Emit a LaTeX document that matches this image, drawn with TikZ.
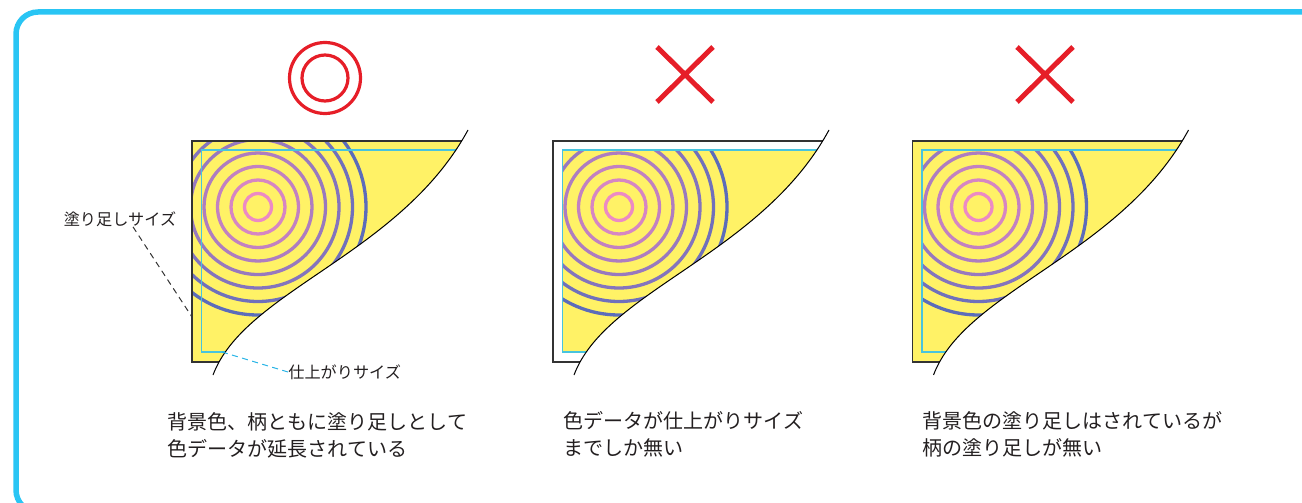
\documentclass[tikz,border=0pt]{standalone}
\usepackage{fontspec}
\newfontfamily\jpfont{Noto Sans CJK JP}

\definecolor{framecyan}{RGB}{41,197,244}
\definecolor{bleedyellow}{RGB}{255,242,102}
\definecolor{trimcyan}{RGB}{72,196,222}
\definecolor{leadcyan}{RGB}{40,180,230}
\definecolor{ringpink}{RGB}{236,138,196}
\definecolor{ringblue}{RGB}{92,108,186}
\definecolor{markred}{RGB}{230,30,40}
\definecolor{textgray}{RGB}{35,31,32}

\tikzset{
  frame/.style={draw=framecyan, line width=1.1mm, rounded corners=4.4mm},
  ring/.style={line width=0.66mm},
  trimline/.style={draw=trimcyan, line width=0.25mm},
  bleedline/.style={draw=black!80, line width=0.35mm},
  cutcurve/.style={draw=black, line width=0.2mm},
  okmark/.style={draw=markred, line width=0.64mm},
  ngmark/.style={draw=markred, line width=1mm},
  capt/.style={font=\jpfont\fontsize{11.4pt}{15.4pt}\selectfont, text=textgray,
    align=left, anchor=west, inner sep=0pt},
  sizelabel/.style={font=\jpfont\fontsize{9.2pt}{11pt}\selectfont, text=textgray,
    inner sep=0pt},
}

\begin{document}
\begin{tikzpicture}[x=0.2mm,y=-0.2mm]
  \clip (0,0) rectangle (1302,503);
  \draw[frame] (16,12) rectangle (1340,512);

  % left: bleed on background and pattern
  \begin{scope}
    \coordinate (cutA) at (213,375);
    \coordinate (cutB) at (245,290);
    \coordinate (cutC) at (400,255);
    \coordinate (cutD) at (468,130);
    \begin{scope}
      \clip (cutA) .. controls (cutB) and (cutC) .. (cutD) -- (150,130) -- (150,375) -- cycle;
      \fill[bleedyellow] (192,141) rectangle (480,362);
      \begin{scope}
        \clip (192,141) rectangle (480,362);
        \foreach \k in {1,...,8} {
          \pgfmathtruncatemacro\mix{100-(\k-1)*100/7}
          \draw[ring, ringpink!\mix!ringblue] (258,207) circle (13.5*\k);
        }
      \end{scope}
      \draw[trimline] (201.5,150) rectangle (480,352);
      \draw[bleedline] (192,141) rectangle (480,362);
    \end{scope}
    \draw[cutcurve] (cutA) .. controls (cutB) and (cutC) .. (cutD);
    \coordinate (trimtip) at (222,352);
    \coordinate (bleedtip) at (192,317);
  \end{scope}

  % middle: nothing outside the trim
  \begin{scope}[shift={(361,0)}]
    \coordinate (cutA) at (213,375);
    \coordinate (cutB) at (245,290);
    \coordinate (cutC) at (400,255);
    \coordinate (cutD) at (468,130);
    \begin{scope}
      \clip (cutA) .. controls (cutB) and (cutC) .. (cutD) -- (150,130) -- (150,375) -- cycle;
      \fill[bleedyellow] (201.5,150) rectangle (480,352);
      \begin{scope}
        \clip (201.5,150) rectangle (480,352);
        \foreach \k in {1,...,8} {
          \pgfmathtruncatemacro\mix{100-(\k-1)*100/7}
          \draw[ring, ringpink!\mix!ringblue] (258,207) circle (13.5*\k);
        }
      \end{scope}
      \draw[trimline] (201.5,150) rectangle (480,352);
      \draw[bleedline] (192,141) rectangle (480,362);
    \end{scope}
    \draw[cutcurve] (cutA) .. controls (cutB) and (cutC) .. (cutD);
  \end{scope}

  % right: background bled, pattern stops at the trim
  \begin{scope}[shift={(720.5,0)}]
    \coordinate (cutA) at (213,375);
    \coordinate (cutB) at (245,290);
    \coordinate (cutC) at (400,255);
    \coordinate (cutD) at (468,130);
    \begin{scope}
      \clip (cutA) .. controls (cutB) and (cutC) .. (cutD) -- (150,130) -- (150,375) -- cycle;
      \fill[bleedyellow] (192,141) rectangle (480,362);
      \begin{scope}
        \clip (201.5,150) rectangle (480,352);
        \foreach \k in {1,...,8} {
          \pgfmathtruncatemacro\mix{100-(\k-1)*100/7}
          \draw[ring, ringpink!\mix!ringblue] (258,207) circle (13.5*\k);
        }
      \end{scope}
      \draw[trimline] (201.5,150) rectangle (480,352);
      \draw[bleedline] (192,141) rectangle (480,362);
    \end{scope}
    \draw[cutcurve] (cutA) .. controls (cutB) and (cutC) .. (cutD);
  \end{scope}

  % marks
  \draw[okmark] (325,78) circle (35.5);
  \draw[okmark] (325,78) circle (23);
  \draw[ngmark] (657,47) -- (713,102) (713,47) -- (657,102);
  \draw[ngmark] (1017,47) -- (1073,102) (1073,47) -- (1017,102);

  % size labels
  \node[sizelabel] (bleedsize) at (120,219) {塗り足しサイズ};
  \node[sizelabel, anchor=west] (trimsize) at (288,372) {仕上がりサイズ};
  \draw[black!80, line width=0.2mm, dash pattern=on 1.2mm off 0.9mm]
    ([xshift=2.6mm]bleedsize.south) -- (bleedtip);
  \draw[leadcyan, line width=0.2mm, dash pattern=on 1.2mm off 0.9mm]
    (trimtip) -- (trimsize.west);

  % captions
  \node[capt] (cap1) at (167,435) {背景色、柄ともに塗り足しとして\\色データが延長されている};
  \node[capt] (cap2) at (563,434) {色データが仕上がりサイズ\\までしか無い};
  \node[capt] (cap3) at (922,434) {背景色の塗り足しはされているが\\柄の塗り足しが無い};
\end{tikzpicture}
\end{document}
